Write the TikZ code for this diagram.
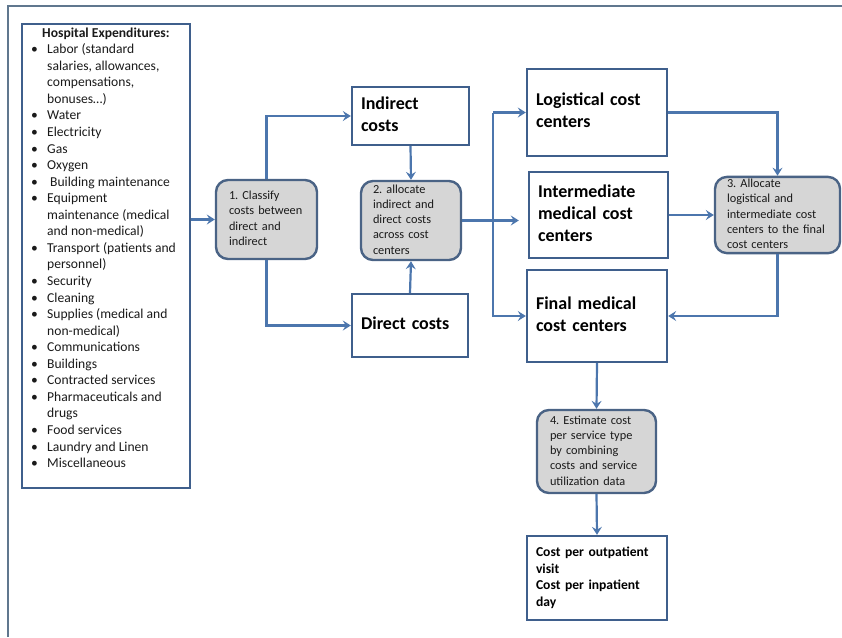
\documentclass[tikz,border=0pt]{standalone}
\usepackage{fontspec}
\setmainfont{Carlito}
\usetikzlibrary{arrows.meta}
\frenchspacing
\definecolor{boxline}{HTML}{3F5F8C}
\definecolor{arrowc}{HTML}{4C76AD}
\definecolor{greyfill}{HTML}{D6D6D6}
\definecolor{greyline}{HTML}{4A6385}
\definecolor{framec}{HTML}{60778E}
\definecolor{txt}{HTML}{1A1A1A}
\newcommand\fTitle{\fontsize{18}{21.7}\selectfont\bfseries}
\newcommand\fList{\fontsize{13.6}{16.55}\selectfont}
\newcommand\fSmall{\fontsize{12.3}{15.25}\selectfont}
\newcommand\fOut{\fontsize{13.6}{16.7}\selectfont\bfseries}
\newcommand\TabL[1]{\begin{tabular}{@{}l@{}}#1\end{tabular}}
\newcommand\bl{\makebox[16pt][l]{\textbullet}}
\newcommand\ind{\hspace*{16pt}}
\begin{document}
\begin{tikzpicture}[x=1pt,y=-1pt,
  wbox/.style={draw=boxline, line width=2.4pt, fill=white, inner xsep=9pt, inner ysep=0pt, align=left, font=\fTitle, text=black},
  gbox/.style={draw=greyline, line width=2.4pt, fill=greyfill, rounded corners=12pt, inner xsep=12.5pt, inner ysep=0pt, align=left, font=\fSmall, text=txt},
  arr/.style={draw=arrowc, line width=2.2pt, -{Stealth[length=8pt,width=10pt,inset=3pt]}},
  frame/.style={draw=framec, line width=1.5pt}]
\useasboundingbox (0,0) rectangle (842,637);
% outer frame (top and left edges visible)
\coordinate (fbl) at (8,637);
\coordinate (ftl) at (8,6);
\coordinate (ftr) at (842,6);
\draw[frame] (fbl) -- (ftl) -- (ftr);

% expenditures box
\node[draw=boxline, line width=2.4pt, minimum width=168pt, minimum height=464pt, inner sep=0pt] (exp) at (106,256) {};
\node[anchor=north west, inner sep=0pt, align=left, font=\fList, text=txt] (expt) at (31,27.5) {%
\hspace*{11pt}\textbf{Hospital Expenditures:}\\
\bl Labor (standard\\
\ind salaries, allowances,\\
\ind compensations,\\
\ind bonuses…)\\
\bl Water\\
\bl Electricity\\
\bl Gas\\
\bl Oxygen\\
\bl\hspace*{3pt}Building maintenance\\
\bl Equipment\\
\ind maintenance (medical\\
\ind and non-medical)\\
\bl Transport (patients and\\
\ind personnel)\\
\bl Security\\
\bl Cleaning\\
\bl Supplies (medical and\\
\ind non-medical)\\
\bl Communications\\
\bl Buildings\\
\bl Contracted services\\
\bl Pharmaceuticals and\\
\ind drugs\\
\bl Food services\\
\bl Laundry and Linen\\
\bl Miscellaneous};

% step boxes
\node[gbox, minimum width=101pt, minimum height=79pt, text width=75pt, inner xsep=13pt] (c1) at (266.5,219.5)
  {\TabL{1. Classify\\costs between\\direct and\\indirect}};
\node[gbox, minimum width=100pt, minimum height=79pt, text width=76pt, inner xsep=12pt] (c2) at (411,220.5)
  {\TabL{2. allocate\\indirect and\\direct costs\\across cost\\centers}};
\node[gbox, minimum width=125pt, minimum height=76pt, text width=101pt, inner xsep=12pt] (c3) at (777.5,215)
  {\TabL{3. Allocate\\logistical and\\intermediate cost\\centers to the final\\cost centers}};
\node[gbox, minimum width=119pt, minimum height=83pt, text width=93pt, inner xsep=13pt] (c4) at (596.5,451.5)
  {\TabL{4. Estimate cost\\per service type\\by combining\\costs and service\\utilization data}};

% white boxes
\node[wbox, minimum width=117pt, minimum height=58pt, text width=99pt] (ind) at (410.5,116)
  {\TabL{Indirect\\costs}};
\node[wbox, minimum width=116pt, minimum height=63pt, text width=98pt] (dir) at (410,325.5)
  {\TabL{Direct costs}};
\node[wbox, minimum width=140pt, minimum height=87pt, text width=122pt] (log) at (597,112.5)
  {\TabL{Logistical cost\\centers}};
\node[wbox, minimum width=139pt, minimum height=86pt, text width=121pt] (inter) at (598.5,215)
  {\TabL{Intermediate\\medical cost\\centers}};
\node[wbox, minimum width=140pt, minimum height=92pt, text width=122pt] (fin) at (597,316)
  {\TabL{Final medical\\cost centers}};
\node[wbox, minimum width=140pt, minimum height=84pt, text width=122pt, font=\fOut] (out) at (597,578)
  {\TabL{Cost per outpatient\\visit\\Cost per inpatient\\day}};

% connectors
\coordinate (bx) at (493,0);
\draw[arr] (exp.east |- c1.west) -- (c1.west);
\draw[arr] (c1.north) |- (ind.west);
\draw[arr] (c1.south) |- (dir.west);
\draw[arr] (ind.south) -- (c2.north);
\draw[arr] (dir.north) -- (c2.north |- c2.south);
\draw[arr, shorten >=9pt] (c2.east) -- (c2.east -| inter.west);
\draw[arr] (bx |- log.west) -- (log.west);
\draw[arr] (bx |- log.west) -- (bx |- fin.west) -- (fin.west);
\draw[arr] (log.east) -| (c3.north);
\draw[arr] (inter.east) -- (c3.west);
\draw[arr] (c3.south) |- (fin.east);
\draw[arr] (fin.south) -- (c4.north);
\draw[arr] (c4.south) -- (out.north);
\end{tikzpicture}
\end{document}
